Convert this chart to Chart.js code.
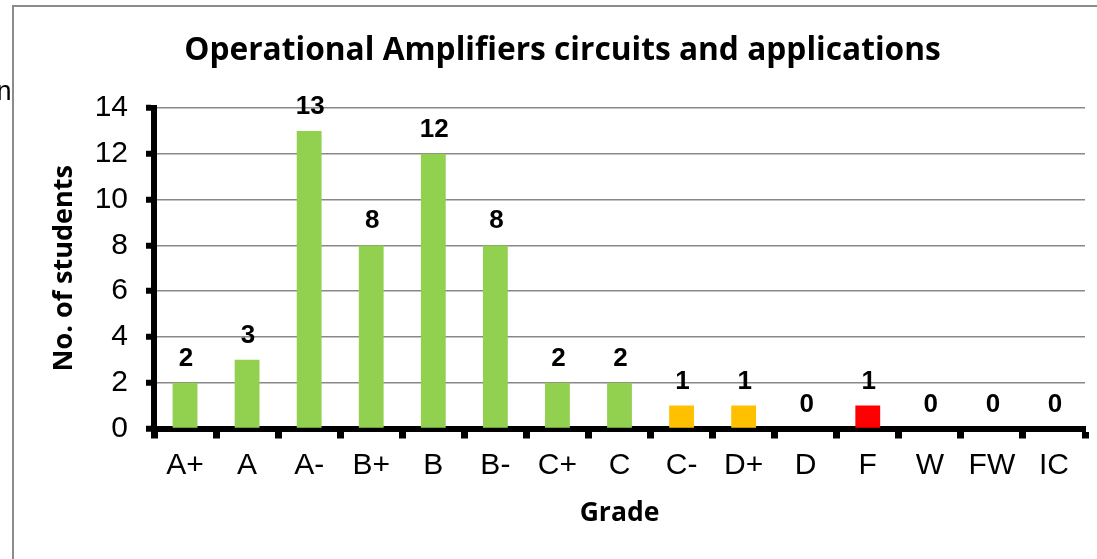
<!DOCTYPE html>
<html>
<head>
<meta charset="utf-8">
<script src="https://cdn.jsdelivr.net/npm/chart.js@4"></script>
<style>
  html, body { margin: 0; padding: 0; background: #fff; }
  #wrap { position: relative; width: 1097px; height: 559px; }
</style>
</head>
<body>
<div id="wrap"><canvas id="gradeChart" width="1097" height="559"></canvas></div>
<script>
const grades = ['A+', 'A', 'A-', 'B+', 'B', 'B-', 'C+', 'C', 'C-', 'D+', 'D', 'F', 'W', 'FW', 'IC'];
const studentCounts = [2, 3, 13, 8, 12, 8, 2, 2, 1, 1, 0, 1, 0, 0, 0];
const yTicks = [0, 2, 4, 6, 8, 10, 12, 14];

const GREEN = '#92D050';
const ORANGE = '#FFC000';
const RED = '#FF0000';
const barColors = [GREEN, GREEN, GREEN, GREEN, GREEN, GREEN, GREEN, GREEN, ORANGE, ORANGE, GREEN, RED, GREEN, GREEN, GREEN];

// values above bars + the page frame and the clipped text on the left
const decorPlugin = {
    id: 'decor',
    beforeDraw(chart) {
        const ctx = chart.ctx;
        ctx.save();
        ctx.fillStyle = '#fff';
        ctx.fillRect(0, 0, chart.width, chart.height);
        ctx.beginPath();
        ctx.rect(0, 0, 13, chart.height);
        ctx.clip();
        ctx.fillStyle = '#000';
        ctx.font = '27px "Liberation Sans", Arial, sans-serif';
        ctx.textAlign = 'right';
        ctx.textBaseline = 'alphabetic';
        ctx.fillText('ns', 25, 100);
        ctx.restore();

        ctx.save();
        ctx.strokeStyle = '#8c8c8c';
        ctx.lineWidth = 2;
        ctx.beginPath();
        ctx.moveTo(13, chart.height);
        ctx.lineTo(13, 6);
        ctx.lineTo(chart.width, 6);
        ctx.stroke();
        ctx.restore();
    },
    afterDatasetsDraw(chart) {
        const ctx = chart.ctx;
        const meta = chart.getDatasetMeta(0);
        ctx.save();
        ctx.fillStyle = '#000';
        ctx.font = 'bold 26px "Liberation Sans", Arial, sans-serif';
        ctx.textAlign = 'center';
        ctx.textBaseline = 'alphabetic';
        meta.data.forEach((bar, i) => {
            ctx.fillText(String(studentCounts[i]), bar.x + 1, bar.y - 17);
        });
        ctx.restore();
    }
};

new Chart(document.getElementById('gradeChart'), {
    type: 'bar',
    data: {
        labels: grades,
        datasets: [{
            data: studentCounts,
            backgroundColor: barColors,
            borderWidth: 0,
            barPercentage: 0.4,
            categoryPercentage: 1
        }]
    },
    options: {
        responsive: false,
        devicePixelRatio: 1,
        animation: false,
        layout: { padding: { left: 40, right: 12, top: 0, bottom: 0 } },
        plugins: {
            legend: { display: false },
            tooltip: { enabled: false },
            title: {
                display: true,
                text: 'Operational Amplifiers circuits and applications',
                color: '#000',
                font: { family: '"Open Sans", sans-serif', weight: 'bold', size: 31.7 },
                padding: { top: 32, bottom: 38 }
            }
        },
        scales: {
            x: {
                afterFit(scale) { scale.height = 130.5; },
                border: { display: true, color: '#000', width: 6 },
                grid: {
                    drawOnChartArea: false,
                    drawTicks: true,
                    tickLength: 10,
                    tickColor: '#000',
                    tickWidth: 7,
                    offset: true
                },
                ticks: {
                    color: '#000',
                    font: { family: '"Liberation Sans", Arial, sans-serif', size: 30 },
                    padding: 9,
                    maxRotation: 0,
                    autoSkip: false
                },
                title: {
                    display: true,
                    text: 'Grade',
                    color: '#000',
                    font: { family: '"Open Sans", sans-serif', weight: 'bold', size: 26.5 },
                    padding: { top: 0, bottom: 30 }
                }
            },
            y: {
                min: 0,
                max: 14,
                afterFit(scale) { scale.width = 114; },
                afterBuildTicks(scale) { scale.ticks = yTicks.map(v => ({ value: v })); },
                border: { display: true, color: '#000', width: 6 },
                grid: {
                    color: '#888',
                    lineWidth: 1.5,
                    drawTicks: true,
                    tickLength: 8,
                    tickColor: '#000',
                    tickWidth: 6
                },
                ticks: {
                    color: '#000',
                    font: { family: '"Liberation Sans", Arial, sans-serif', size: 30 },
                    padding: 18
                },
                title: {
                    display: true,
                    text: 'No. of students',
                    color: '#000',
                    font: { family: '"Open Sans", sans-serif', weight: 'bold', size: 27 },
                    padding: { top: 8, bottom: 0 }
                }
            }
        }
    },
    plugins: [decorPlugin]
});
</script>
</body>
</html>
